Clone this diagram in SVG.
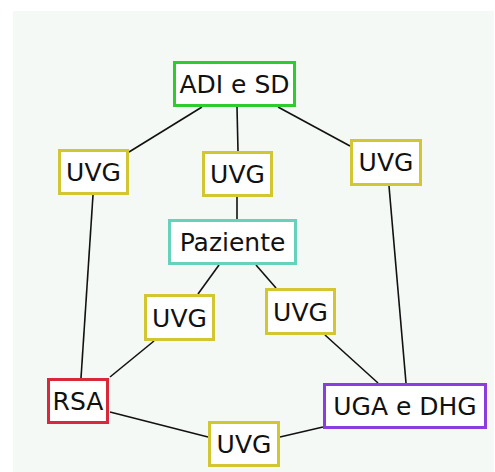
<svg xmlns="http://www.w3.org/2000/svg" width="495" height="472" viewBox="0 0 495 472">
<style>
.box{fill:#ffffff;stroke-width:3}
.uvg{stroke:#d2c633}
text{font-family:"DejaVu Sans",Verdana,sans-serif;font-size:25px;fill:#111;text-anchor:middle}
.conn line{stroke:#111;stroke-width:1.6}
</style>
<rect x="0" y="0" width="495" height="472" fill="#ffffff"/>
<rect x="13" y="11" width="481" height="461" fill="#f5f9f6"/>
<g id="connectors" class="conn">
<line x1="202" y1="107" x2="129" y2="152"/>
<line x1="237" y1="107" x2="238" y2="151"/>
<line x1="278" y1="107" x2="350" y2="146"/>
<line x1="93" y1="195" x2="81" y2="378"/>
<line x1="237" y1="197" x2="237" y2="219"/>
<line x1="389" y1="186" x2="406" y2="383"/>
<line x1="219" y1="265" x2="198" y2="294"/>
<line x1="256" y1="265" x2="276" y2="288"/>
<line x1="154" y1="341" x2="110" y2="377"/>
<line x1="325" y1="335" x2="378" y2="383"/>
<line x1="110" y1="412" x2="208" y2="437"/>
<line x1="280" y1="437" x2="323" y2="427"/>
</g>
<g id="adi">
<rect class="box" x="174.5" y="62.5" width="120" height="43" stroke="#2ecc2e"/>
<text x="234.5" y="93">ADI e SD</text>
</g>
<g id="uvg-left">
<rect class="box uvg" x="59.5" y="150.5" width="68" height="43"/>
<text x="93.5" y="181">UVG</text>
</g>
<g id="uvg-mid">
<rect class="box uvg" x="203.5" y="152.5" width="68" height="43"/>
<text x="237.5" y="183">UVG</text>
</g>
<g id="uvg-right">
<rect class="box uvg" x="351.5" y="140.5" width="69" height="44"/>
<text x="386" y="171">UVG</text>
</g>
<g id="paziente">
<rect class="box" x="169.5" y="220.5" width="126" height="43" stroke="#66d2bc"/>
<text x="232.5" y="251">Paziente</text>
</g>
<g id="uvg-lowleft">
<rect class="box uvg" x="145.5" y="295.5" width="68" height="44"/>
<text x="179.5" y="327">UVG</text>
</g>
<g id="uvg-lowright">
<rect class="box uvg" x="266.5" y="289.5" width="68" height="44"/>
<text x="300.5" y="321">UVG</text>
</g>
<g id="rsa">
<rect class="box" x="48.5" y="379.5" width="59" height="43" stroke="#d8283a"/>
<text x="78" y="410">RSA</text>
</g>
<g id="uga">
<rect class="box" x="324.5" y="384.5" width="161" height="43" stroke="#8a3ee0"/>
<text x="405" y="415">UGA e DHG</text>
</g>
<g id="uvg-bottom">
<rect class="box uvg" x="209.5" y="422.5" width="69" height="43"/>
<text x="244" y="453">UVG</text>
</g>
</svg>
